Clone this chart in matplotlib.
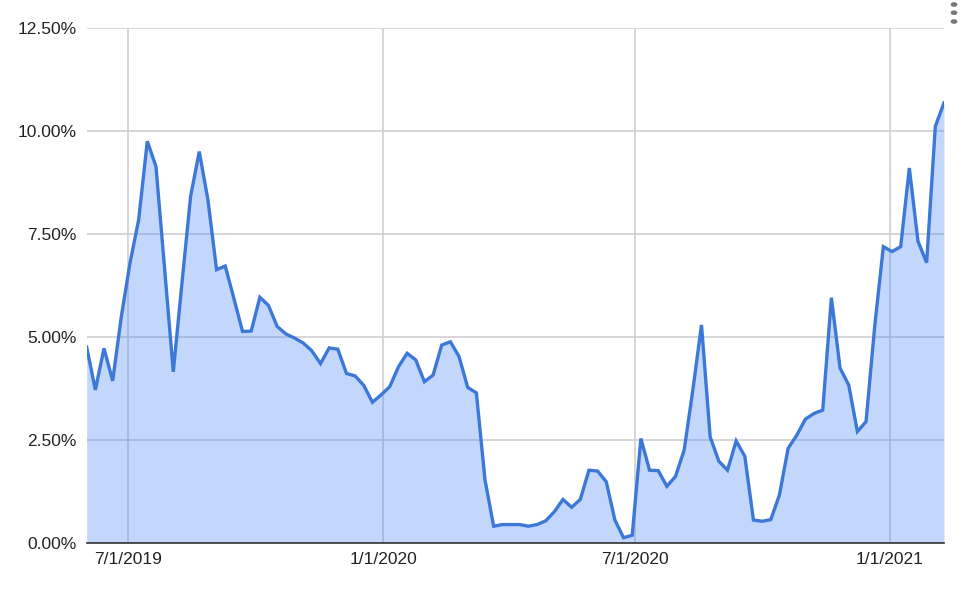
import matplotlib
matplotlib.use("Agg")

import matplotlib.pyplot as plt
import matplotlib.dates as mdates
from matplotlib.patches import Circle
from matplotlib.ticker import FuncFormatter, MultipleLocator
import pandas as pd

start_date = "2019-06-01"
end_date = "2021-02-09"

rates = [
    4.75, 3.71, 4.72, 3.93, 5.49, 6.79, 7.84, 9.75, 9.14, 6.65,
    4.15, 6.30, 8.41, 9.50, 8.33, 6.63, 6.72, 5.93, 5.13, 5.14,
    5.96, 5.76, 5.25, 5.07, 4.97, 4.85, 4.66, 4.35, 4.73, 4.70,
    4.11, 4.05, 3.82, 3.41, 3.59, 3.79, 4.27, 4.60, 4.44, 3.91,
    4.07, 4.80, 4.88, 4.52, 3.77, 3.64, 1.52, 0.40, 0.44, 0.44,
    0.44, 0.40, 0.44, 0.53, 0.75, 1.05, 0.86, 1.05, 1.76, 1.74,
    1.48, 0.55, 0.12, 0.18, 2.53, 1.76, 1.75, 1.37, 1.61, 2.25,
    3.71, 5.29, 2.57, 1.98, 1.76, 2.47, 2.10, 0.55, 0.52, 0.56,
    1.16, 2.29, 2.61, 3.00, 3.14, 3.22, 5.95, 4.24, 3.83, 2.70,
    2.94, 5.25, 7.19, 7.07, 7.19, 9.10, 7.32, 6.80, 10.11, 10.68,
]

dates = pd.date_range(start_date, end_date, periods=len(rates))

LINE = "#3c78d8"
FILL = "#4285f4"
GRID = "#cccccc"
TEXT = "#222222"

plt.rcParams["font.family"] = ["Liberation Sans", "DejaVu Sans"]

fig = plt.figure(figsize=(9.6, 5.9), dpi=100)
ax = fig.add_axes([0.0903, 0.0802, 0.8930, 0.8723])

ax.fill_between(dates, rates, 0, color=FILL, alpha=0.32, linewidth=0, zorder=2)
ax.plot(dates, rates, color=LINE, linewidth=2.4, solid_joinstyle="miter", zorder=3)

ax.set_xlim(dates[0], dates[-1])
ax.set_ylim(0, 12.5)

ax.yaxis.set_major_locator(MultipleLocator(2.5))
ax.yaxis.set_major_formatter(FuncFormatter(lambda v, _: f"{v:.2f}%"))
ax.xaxis.set_major_locator(mdates.MonthLocator(bymonth=[1, 7]))
ax.xaxis.set_major_formatter(
    FuncFormatter(lambda v, _: (lambda d: f"{d.month}/{d.day}/{d.year}")(mdates.num2date(v)))
)

ax.grid(True, color=GRID, linewidth=1.1, zorder=1)
ax.set_axisbelow(True)
for side in ("top", "right", "left"):
    ax.spines[side].set_visible(False)
ax.spines["bottom"].set_color("#333333")
ax.spines["bottom"].set_linewidth(1.2)
ax.spines["bottom"].set_zorder(4)

ax.tick_params(axis="both", length=0, labelsize=12.5, labelcolor=TEXT)
ax.tick_params(axis="y", pad=7)
ax.tick_params(axis="x", pad=7)

# menu dots in the top right corner
for yy in (4.5, 12.7, 21.5):
    fig.add_artist(Circle((954 / 960, 1 - yy / 590), 2.6 / 960,
                          transform=fig.transFigure, color="#777777"))

fig.savefig("out.png", dpi=100)
